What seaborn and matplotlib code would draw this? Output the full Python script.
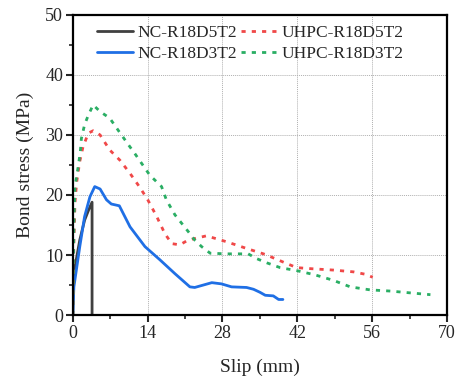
import numpy as np
import pandas as pd
import matplotlib
matplotlib.use("Agg")
import matplotlib.pyplot as plt
from matplotlib.ticker import MultipleLocator
import seaborn as sns

# Data
nc5_x = [0, 0.05, 0.5, 1.3, 2.2, 3.0, 3.6, 3.6]
nc5_y = [0, 4.7, 8.5, 12.5, 15.8, 17.6, 18.8, 0]

nc3_x = [0, 0.2, 1.3, 2.2, 3.2, 4.1, 5.1, 6.3, 7.2, 8.7, 10.7, 13.5, 16.3, 19.1, 21.9, 22.8,
         24.0, 26.0, 27.8, 29.7, 32.5, 33.8, 35.0, 36.0, 37.5, 38.5, 39.3]
nc3_y = [0, 4.7, 11.4, 16.4, 19.7, 21.4, 21.0, 19.2, 18.5, 18.2, 14.7, 11.4, 9.2, 6.9, 4.7, 4.6,
         4.9, 5.4, 5.2, 4.7, 4.6, 4.3, 3.8, 3.3, 3.2, 2.6, 2.6]

u5_x = [0, 0.1, 0.2, 0.4, 0.7, 1.3, 1.9, 2.9, 3.8, 5.1, 6.9, 8.8, 10.7, 12.2, 13.9, 15.7, 17.2,
        18.5, 20.0, 21.6, 25.0, 28.8, 32.5, 36.0, 39.7, 41.9, 45.0, 48.7, 52.5, 54.7, 56.1]
u5_y = [0, 5, 12, 18.6, 22, 25.6, 28, 30.3, 30.7, 30.0, 27.5, 25.8, 23.6, 21.7, 19.4, 16.4, 13.6,
        11.9, 11.7, 12.5, 13.2, 12.2, 11.1, 10.1, 8.7, 7.9, 7.7, 7.5, 7.2, 6.8, 6.3]

u3_x = [0, 0.1, 0.2, 0.4, 1.0, 1.4, 1.6, 2.2, 2.9, 3.8, 5.1, 6.9, 9.1, 10.7, 11.6, 14.4, 16.6,
        17.5, 19.1, 21.6, 22.8, 24.1, 25.7, 28.8, 32.8, 34.4, 36.3, 38.8, 41.9, 45.3, 48.7,
        51.9, 55.6, 59.4, 63.1, 66.9]
u3_y = [0, 8, 15, 21.4, 24.7, 27.2, 29.4, 31.7, 33.3, 35.0, 33.9, 32.8, 30.0, 28.0, 26.9, 23.3, 21.4,
        19.2, 16.7, 13.9, 12.5, 11.4, 10.3, 10.2, 10.2, 9.4, 8.7, 7.9, 7.4, 6.7, 5.8,
        4.7, 4.2, 4.0, 3.7, 3.4]

labels = ["NC-R18D5T2", "NC-R18D3T2", "UHPC-R18D5T2", "UHPC-R18D3T2"]
xticks = [0, 14, 28, 42, 56, 70]
yticks = [0, 10, 20, 30, 40, 50]

frames = []
for lab, xs, ys in zip(labels, [nc5_x, nc3_x, u5_x, u3_x], [nc5_y, nc3_y, u5_y, u3_y]):
    frames.append(pd.DataFrame({"slip": xs, "stress": ys, "series": lab}))
df = pd.concat(frames, ignore_index=True)

sns.set_theme(style="ticks")
plt.rcParams["font.family"] = ["Liberation Serif", "DejaVu Serif"]

fig = plt.figure(figsize=(4.58, 3.81), dpi=100)
ax = fig.add_axes([0.159, 0.173, 0.817, 0.788])

colors = {"NC-R18D5T2": "#404040", "NC-R18D3T2": "#1f6fe5",
          "UHPC-R18D5T2": "#f04848", "UHPC-R18D3T2": "#2aae64"}
styles = {"NC-R18D5T2": "-", "NC-R18D3T2": "-",
          "UHPC-R18D5T2": (0, (1.5, 2.2)), "UHPC-R18D3T2": (0, (1.5, 2.2))}

for lab in labels:
    sub = df[df.series == lab]
    sns.lineplot(data=sub, x="slip", y="stress", sort=False, estimator=None,
                 color=colors[lab], linestyle=styles[lab], linewidth=2.0,
                 label=lab, ax=ax)

ax.set_xlim(0, 70)
ax.set_ylim(0, 50)
ax.set_xticks(xticks)
ax.set_yticks(yticks)
ax.xaxis.set_minor_locator(MultipleLocator(7))
ax.yaxis.set_minor_locator(MultipleLocator(5))
ax.tick_params(axis="both", which="major", direction="out", length=5, width=1.5,
               labelsize=13, top=False, right=False, pad=2)
ax.tick_params(axis="both", which="minor", direction="out", length=3, width=1.2,
               top=False, right=False)
for s in ax.spines.values():
    s.set_linewidth(1.6)
    s.set_color("black")
ax.grid(True, which="major", linestyle=(0, (1, 1)), color="#b0b0b0", linewidth=0.7)
ax.set_axisbelow(True)

ax.set_xlabel("Slip (mm)", fontsize=14, labelpad=12)
ax.set_ylabel("Bond stress (MPa)", fontsize=14, labelpad=8)

handles, labs = ax.get_legend_handles_labels()
leg = ax.legend(handles, labs, ncol=2, frameon=False, fontsize=12.5,
                loc="upper left", bbox_to_anchor=(0.037, 1.0),
                handlelength=2.05, handletextpad=0.3, columnspacing=0.2,
                labelspacing=0.25, borderaxespad=0.2)

fig.savefig("out.png", dpi=100)
